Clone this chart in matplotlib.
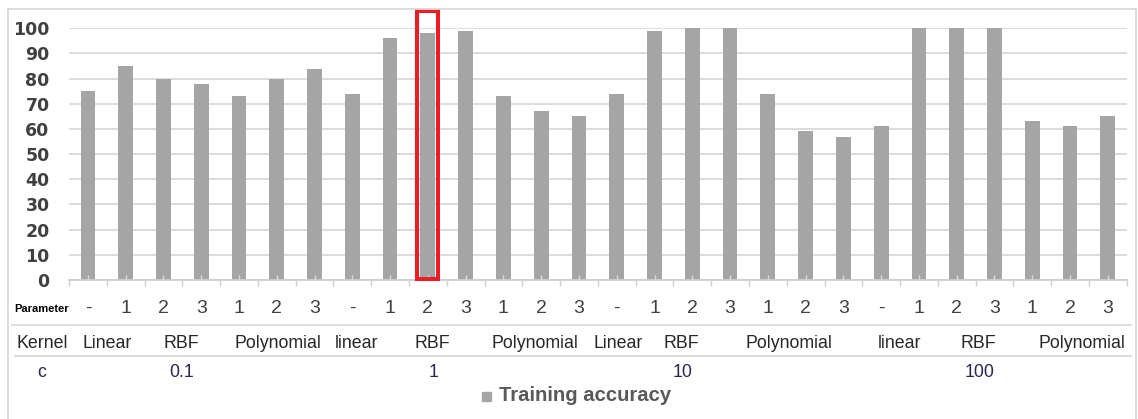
import numpy as np
import matplotlib
matplotlib.use('Agg')
import matplotlib.pyplot as plt
from matplotlib.patches import Rectangle
from matplotlib.lines import Line2D
from matplotlib.transforms import blended_transform_factory

# --- SVM grid search: training accuracy per (c, kernel, parameter) ---
c_values = ['0.1', '1', '10', '100']
kernels = ['Linear', 'RBF', 'Polynomial',
           'linear', 'RBF', 'Polynomial',
           'Linear', 'RBF', 'Polynomial',
           'linear', 'RBF', 'Polynomial']
parameters = ['-', '1', '2', '3', '1', '2', '3',
              '-', '1', '2', '3', '1', '2', '3',
              '-', '1', '2', '3', '1', '2', '3',
              '-', '1', '2', '3', '1', '2', '3']
training_accuracy = [75, 85, 80, 78, 73, 80, 84,
                     74, 96, 98, 99, 73, 67, 65,
                     74, 99, 100, 100, 74, 59, 57,
                     61, 100, 100, 100, 63, 61, 65]
highlight_idx = 9          # c=1, RBF, parameter 2
y_ticks = list(range(0, 101, 10))

# label anchors (in category units) for the kernel / c rows of the table
kernel_pos = [0.52, 2.48, 5.04, 7.10, 9.12, 11.84, 14.03, 15.70, 18.57, 21.48, 23.57, 26.31]
c_pos = [2.48, 9.14, 15.73, 23.61]

W, H = 1138, 419
BAR = '#a5a5a5'
GRID = '#d9d9d9'
FONT = 'Liberation Sans'


def fy(px):
    return 1 - px / H


def fx(px):
    return px / W


fig = plt.figure(figsize=(W / 100, H / 100), dpi=100)
ax = fig.add_axes([fx(69), fy(280), fx(1126.7) - fx(69), fy(28.3) - fy(280)])

x = np.arange(len(training_accuracy))
ax.bar(x, training_accuracy, width=0.39, color=BAR, zorder=2)

# little notches at the foot of each bar
ax.vlines(x, 0, 0.02, transform=blended_transform_factory(ax.transData, ax.transAxes),
          color=GRID, lw=1, zorder=3)

ax.set_xlim(-0.5, len(x) - 0.5)
ax.set_ylim(0, 100)
ax.set_yticks(y_ticks)
ax.set_yticklabels([str(v) for v in y_ticks], fontfamily='DejaVu Sans', fontsize=12.5,
                   fontweight='bold', color='#404040')
ax.tick_params(axis='y', length=0, pad=14)
ax.set_xticks(np.arange(len(x) + 1) - 0.5)
ax.set_xticklabels([])
ax.tick_params(axis='x', direction='out', length=4.3, width=1, color='#cfcfcf')
ax.grid(axis='y', color=GRID, lw=1.3)
ax.set_axisbelow(True)
for s in ['left', 'right', 'top']:
    ax.spines[s].set_visible(False)
ax.spines['bottom'].set_color('#cfcfcf')
ax.spines['bottom'].set_linewidth(1.3)

# red box around the selected configuration
ax.add_patch(Rectangle((highlight_idx - 0.275, 0.5), 0.55, 106.2, fill=False,
                       ec='#ed1c24', lw=2.9, clip_on=False, zorder=4))

# --- table under the axis ---
tr = blended_transform_factory(ax.transData, fig.transFigure)
for i, p in enumerate(parameters):
    ax.text(i, fy(313.3), p, transform=tr, ha='center', va='baseline',
            fontfamily=FONT, fontsize=14, color='#404040')
for k, pos in zip(kernels, kernel_pos):
    ax.text(pos, fy(348.3), k, transform=tr, ha='center', va='baseline',
            fontfamily=FONT, fontsize=12.8, color='#262626')
for c, pos in zip(c_values, c_pos):
    ax.text(pos, fy(376.7), c, transform=tr, ha='center', va='baseline',
            fontfamily=FONT, fontsize=12.8, color='#2e2550')

fig.text(fx(42), fy(311.7), 'Parameter', ha='center', va='baseline',
         fontfamily=FONT, fontsize=8, fontweight='bold', color='black')
fig.text(fx(42), fy(347.5), 'Kernel', ha='center', va='baseline',
         fontfamily=FONT, fontsize=12.8, color='#262626')
fig.text(fx(42), fy(377), 'c', ha='center', va='baseline',
         fontfamily=FONT, fontsize=12.8, color='#2e2550')

fig.add_artist(Line2D([fx(12), fx(1131)], [fy(324.5), fy(324.5)], color=GRID, lw=1.3))
fig.add_artist(Line2D([fx(15), fx(1131)], [fy(356), fy(356)], color=GRID, lw=1.3))

# legend
fig.add_artist(Rectangle((fx(481.7), fy(400.5)), fx(9), 9 / H, color=BAR))
fig.text(fx(499), fy(400.5), 'Training accuracy', ha='left', va='baseline',
         fontfamily=FONT, fontsize=14.6, fontweight='bold', color='#595959')

# chart frame (bottom edge runs off the canvas)
fig.add_artist(Line2D([fx(7.5), fx(7.5), fx(1136), fx(1136)],
                      [0, fy(9.3), fy(9.3), 0], color=GRID, lw=1.3))

fig.savefig('out.png', dpi=100)
